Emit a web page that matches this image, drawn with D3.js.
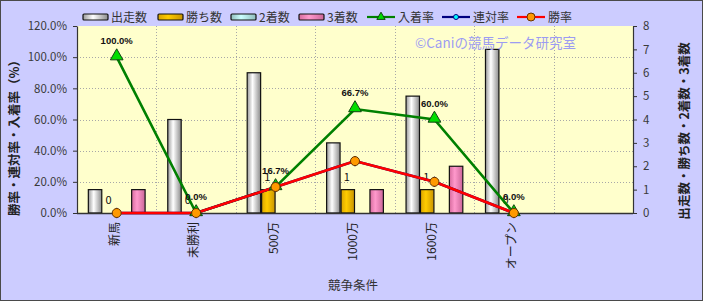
<!DOCTYPE html>
<html>
<head>
<meta charset="utf-8">
<script src="https://cdn.jsdelivr.net/npm/d3@7"></script>
<style>
  body { margin: 0; background: #fff; }
  svg { display: block; font-family: "Noto Sans CJK JP", "Noto Sans", sans-serif; }
</style>
</head>
<body>
<script>
// chart size
var width = 703;
var height = 301;

// data
var categories = ["新馬", "未勝利", "500万", "1000万", "1600万", "オープン"];
var starts = [1, 4, 6, 3, 5, 7];      // 出走数
var wins = [0, 0, 1, 1, 1, 0];        // 勝ち数
var seconds = [0, 0, 0, 0, 0, 0];     // 2着数
var thirds = [1, 0, 0, 1, 2, 0];      // 3着数
var placeRate = [1.0, 0, 0.167, 0.667, 0.6, 0];   // 入着率
var rentaiRate = [0, 0, 0.167, 0.333, 0.2, 0];    // 連対率
var winRate = [0, 0, 0.167, 0.333, 0.2, 0];       // 勝率
var leftTicks = [0, 0.2, 0.4, 0.6, 0.8, 1.0, 1.2];
var rightTicks = [0, 1, 2, 3, 4, 5, 6, 7, 8];

var barNames = ["出走数", "勝ち数", "2着数", "3着数"];
var lineNames = ["入着率", "連対率", "勝率"];

// plot box
var plot = {left: 77, right: 633, top: 26, bottom: 213};

var svg = d3.select("body").append("svg")
  .attr("width", width)
  .attr("height", height);

// gradients for the bars
var defs = svg.append("defs");
function grad(id, c0, c1, c2) {
  var g = defs.append("linearGradient").attr("id", id)
    .attr("x1", "0%").attr("x2", "100%").attr("y1", "0%").attr("y2", "0%");
  g.append("stop").attr("offset", "0%").attr("stop-color", c0);
  g.append("stop").attr("offset", "40%").attr("stop-color", c1);
  g.append("stop").attr("offset", "100%").attr("stop-color", c2);
}
grad("g0", "#9a9a9a", "#ffffff", "#8c8c8c");
grad("g1", "#d9a400", "#ffcc00", "#c99400");
grad("g2", "#8fbcbc", "#ccffff", "#8fbcbc");
grad("g3", "#d66b9e", "#ff99cc", "#cc6699");
var barFill = ["url(#g0)", "url(#g1)", "url(#g2)", "url(#g3)"];

// background
svg.append("rect")
  .attr("width", width).attr("height", height)
  .attr("fill", "#ccccff");
svg.append("rect")
  .attr("x", 0.5).attr("y", 0.5)
  .attr("width", width - 1).attr("height", height - 1)
  .attr("fill", "none").attr("stroke", "#4a4a4a");

svg.append("rect")
  .attr("x", plot.left).attr("y", plot.top)
  .attr("width", plot.right - plot.left).attr("height", plot.bottom - plot.top)
  .attr("fill", "#ffffcc");

// scales (7 slots, last one is empty)
var x = d3.scaleBand()
  .domain(categories.concat([""]))
  .range([plot.left, plot.right]);

var xSub = d3.scaleBand()
  .domain(d3.range(4))
  .range([0, x.bandwidth()])
  .paddingOuter(0.75);

var yL = d3.scaleLinear().domain([0, 1.2]).range([plot.bottom, plot.top]);
var yR = d3.scaleLinear().domain([0, 8]).range([plot.bottom, plot.top]);

// grid
svg.append("g").selectAll("line")
  .data(leftTicks.slice(1, -1))
  .enter().append("line")
  .attr("x1", plot.left).attr("x2", plot.right)
  .attr("y1", function(d) { return Math.round(yL(d)) + 0.5; })
  .attr("y2", function(d) { return Math.round(yL(d)) + 0.5; })
  .attr("stroke", "#a8a8a8")
  .attr("stroke-dasharray", "1,2");

svg.append("g").selectAll("line")
  .data(x.domain().slice(1))
  .enter().append("line")
  .attr("x1", function(d) { return Math.round(x(d)) + 0.5; })
  .attr("x2", function(d) { return Math.round(x(d)) + 0.5; })
  .attr("y1", plot.top).attr("y2", plot.bottom)
  .attr("stroke", "#a8a8a8")
  .attr("stroke-dasharray", "1,2");

// bars
var barData = [starts, wins, seconds, thirds];
var bars = svg.append("g");
categories.forEach(function(c, i) {
  barData.forEach(function(arr, s) {
    var v = arr[i];
    if (!v) return;
    bars.append("rect")
      .attr("x", x(c) + xSub(s) + 0.5)
      .attr("y", yR(v))
      .attr("width", xSub.bandwidth() - 1)
      .attr("height", yR(0) - yR(v))
      .attr("fill", barFill[s])
      .attr("stroke", "#111")
      .attr("stroke-width", 1.2);
  });
});

// 勝ち数 labels
svg.append("g").selectAll("text")
  .data(wins)
  .enter().append("text")
  .attr("x", function(d, i) { return x(categories[i]) + xSub(1) + xSub.bandwidth() / 2 - 1; })
  .attr("y", function(d) { return yR(d) - 9; })
  .attr("text-anchor", "middle")
  .attr("font-size", 11)
  .attr("fill", "#111")
  .text(function(d) { return d; });

// axes
var axL = svg.append("g")
  .attr("transform", "translate(" + plot.left + ",0)")
  .call(d3.axisLeft(yL).tickValues(leftTicks).tickFormat(d3.format(".1%")).tickSize(4).tickSizeOuter(0));
var axR = svg.append("g")
  .attr("transform", "translate(" + plot.right + ",0)")
  .call(d3.axisRight(yR).tickValues(rightTicks).tickFormat(d3.format("d")).tickSize(4).tickSizeOuter(0));
[axL, axR].forEach(function(a) {
  a.select(".domain").attr("stroke", "#333").attr("stroke-width", 1.2);
  a.selectAll(".tick line").attr("stroke", "#333");
  a.selectAll(".tick text")
    .attr("font-family", "'Noto Sans CJK JP', sans-serif")
    .attr("font-size", 11.5)
    .attr("fill", "#3a3a3a");
});
axL.selectAll(".tick text").attr("x", -10);
axR.selectAll(".tick text").attr("x", 10);

svg.append("line")
  .attr("x1", plot.left).attr("x2", plot.right)
  .attr("y1", plot.bottom + 0.5).attr("y2", plot.bottom + 0.5)
  .attr("stroke", "#333").attr("stroke-width", 1.5);

// x tick labels
svg.append("g").selectAll("text")
  .data(categories)
  .enter().append("text")
  .attr("transform", function(d) {
    return "translate(" + (x(d) + x.bandwidth() / 2 + 2) + "," + (plot.bottom + 9) + ") rotate(-90)";
  })
  .attr("text-anchor", "end")
  .attr("font-size", 12)
  .attr("fill", "#222")
  .text(function(d) { return d; });

// lines
var lineData = [placeRate, rentaiRate, winRate];
var lineColor = ["#008000", "#000080", "#ff0000"];
var line = d3.line()
  .x(function(d, i) { return x(categories[i]) + x.bandwidth() / 2; })
  .y(function(d) { return yL(d); });

lineData.forEach(function(arr, k) {
  svg.append("path")
    .datum(arr)
    .attr("d", line)
    .attr("fill", "none")
    .attr("stroke", lineColor[k])
    .attr("stroke-width", 2.6);
});

var tri = d3.symbol().type(d3.symbolTriangle).size(70);
var dia = d3.symbol().type(d3.symbolDiamond).size(30);

function markers(arr, draw) {
  var g = svg.append("g");
  arr.forEach(function(v, i) {
    draw(g.append("g")
      .attr("transform", "translate(" + (x(categories[i]) + x.bandwidth() / 2) + "," + yL(v) + ")"));
  });
}
markers(placeRate, function(g) {
  g.append("path").attr("d", tri).attr("transform", "translate(0,-1)")
    .attr("fill", "#00dd00").attr("stroke", "#114411").attr("stroke-width", 1);
});
markers(rentaiRate, function(g) {
  g.append("path").attr("d", dia).attr("fill", "#00ffff").attr("stroke", "#000080");
});
markers(winRate, function(g) {
  g.append("circle").attr("r", 4.5)
    .attr("fill", "#ff9900").attr("stroke", "#663300").attr("stroke-width", 1);
});

// 入着率 labels
svg.append("g").selectAll("text")
  .data(placeRate)
  .enter().append("text")
  .attr("x", function(d, i) { return x(categories[i]) + x.bandwidth() / 2; })
  .attr("y", function(d) { return yL(d) - 13; })
  .attr("text-anchor", "middle")
  .attr("font-family", "'Liberation Sans', Arial, sans-serif")
  .attr("font-weight", "bold")
  .attr("font-size", 9.5)
  .attr("fill", "#111")
  .text(function(d) { return d3.format(".1%")(d); });

// watermark
svg.append("text")
  .attr("x", 415).attr("y", 48)
  .attr("font-size", 13.5)
  .attr("fill", "#9c9cf2")
  .text("©Caniの競馬データ研究室");

// axis titles
svg.append("text")
  .attr("transform", "translate(19,135) rotate(-90)")
  .attr("text-anchor", "middle")
  .attr("font-size", 12.5)
  .attr("font-weight", "bold")
  .attr("fill", "#222")
  .text("勝率・連対率・入着率（%）");

svg.append("text")
  .attr("transform", "translate(689,131) rotate(-90)")
  .attr("text-anchor", "middle")
  .attr("font-size", 12.5)
  .attr("font-weight", "bold")
  .attr("fill", "#222")
  .text("出走数・勝ち数・2着数・3着数");

svg.append("text")
  .attr("x", 353).attr("y", 290)
  .attr("text-anchor", "middle")
  .attr("font-size", 12.5)
  .attr("fill", "#333")
  .text("競争条件");

// legend
var legBarX = [83, 158, 231, 299];
var legLineX = [367, 442, 517];
var legend = svg.append("g");
barNames.forEach(function(n, s) {
  legend.append("rect")
    .attr("x", legBarX[s]).attr("y", 14)
    .attr("width", 25).attr("height", 6)
    .attr("rx", 1)
    .attr("fill", barFill[s]).attr("stroke", "#111").attr("stroke-width", 1.2);
  legend.append("text")
    .attr("x", legBarX[s] + 28).attr("y", 22)
    .attr("font-size", 12).attr("fill", "#333")
    .text(n);
});
lineNames.forEach(function(n, k) {
  var lx = legLineX[k];
  legend.append("line")
    .attr("x1", lx).attr("x2", lx + 28)
    .attr("y1", 17).attr("y2", 17)
    .attr("stroke", lineColor[k]).attr("stroke-width", 2.2);
  var m = legend.append("g").attr("transform", "translate(" + (lx + 14) + ",17)");
  if (k === 0) m.append("path").attr("d", d3.symbol().type(d3.symbolTriangle).size(30)).attr("fill", "#00dd00").attr("stroke", "#114411");
  if (k === 1) m.append("circle").attr("r", 2.5).attr("fill", "#00ffff").attr("stroke", "#000080");
  if (k === 2) m.append("circle").attr("r", 4).attr("fill", "#ff9900").attr("stroke", "#663300");
  legend.append("text")
    .attr("x", lx + 31).attr("y", 22)
    .attr("font-size", 12).attr("fill", "#333")
    .text(n);
});
</script>
</body>
</html>
